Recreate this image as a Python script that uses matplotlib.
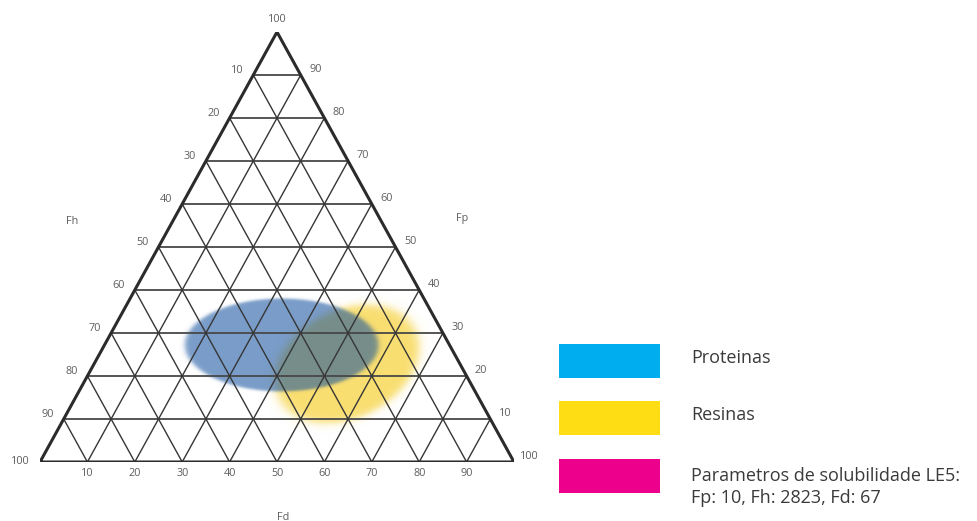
import numpy as np
import matplotlib.pyplot as plt
from matplotlib.patches import Rectangle

plt.rcParams['font.family'] = ['Open Sans', 'DejaVu Sans']

# niveis da grade ternaria (%)
niveis = [10, 20, 30, 40, 50, 60, 70, 80, 90]
rotulos_fd = ['10', '20', '30', '40', '50', '60', '70', '80', '90']   # base
rotulos_fp = ['10', '20', '30', '40', '50', '60', '70', '80', '90']   # lado direito
rotulos_fh = ['90', '80', '70', '60', '50', '40', '30', '20', '10']   # lado esquerdo
rotulo_vertice = '100'

# regioes de solubilidade: centro (posicao na base %, Fp %), largura, altura, angulo
regiao_proteinas = dict(centro=(51.0, 27.2), largura=40.8, altura=21.6, angulo=0.0)
regiao_resinas = dict(centro=(64.8, 22.8), largura=32.0, altura=25.0, angulo=27.0)

legenda_nomes = ['Proteinas', 'Resinas',
                 'Parametros de solubilidade LE5:\nFp: 10, Fh: 2823, Fd: 67']
legenda_cores = ['#00aeef', '#ffdd15', '#ec008c']

ALT = 90.7  # altura do triangulo nas unidades da base


def ponto(base, fp):
    return base, fp * ALT / 100.0


fig = plt.figure(figsize=(9.78, 5.21), dpi=100)
ax = fig.add_axes([40 / 978, 59 / 521, 474 / 978, 430 / 521])
ax.set_xlim(0, 100)
ax.set_ylim(0, ALT)
ax.axis('off')


# mancha eliptica com borda suave
def mancha(reg, suave):
    xs = np.linspace(0, 100, 1000)
    ys = np.linspace(0, ALT, 910)
    X, Y = np.meshgrid(xs, ys)
    cx, cy = ponto(*reg['centro'])
    a = reg['largura'] / 2
    b = reg['altura'] * ALT / 100 / 2
    t = np.deg2rad(reg['angulo'])
    dx, dy = X - cx, Y - cy
    u = dx * np.cos(t) + dy * np.sin(t)
    v = -dx * np.sin(t) + dy * np.cos(t)
    r = np.sqrt((u / a) ** 2 + (v / b) ** 2)
    d = (r - 1) * min(a, b)
    return 1 / (1 + np.exp(d / suave))


def camada(mascara, cor, alfa):
    img = np.zeros(mascara.shape + (4,))
    img[..., :3] = np.array(cor) / 255.0
    img[..., 3] = mascara * alfa
    ax.imshow(img, extent=[0, 100, 0, ALT], origin='lower',
              aspect='auto', interpolation='bilinear', zorder=1)


camada(mancha(regiao_resinas, 0.45), (249, 222, 112), 1.0)
camada(mancha(regiao_proteinas, 0.15), (15, 78, 158), 0.56)

# grade
for p in niveis:
    x0, y0 = ponto(p / 2, p)
    x1, _ = ponto(100 - p / 2, p)
    ax.plot([x0, x1], [y0, y0], color='#484848', lw=1.3, zorder=2)
for d in niveis:
    xa, ya = ponto(d, 0)
    xb, yb = ponto(d + (100 - d) / 2, 100 - d)
    ax.plot([xa, xb], [ya, yb], color='#363636', lw=1.0, zorder=2)
    xc, yc = ponto(d / 2, d)
    ax.plot([xa, xc], [ya, yc], color='#363636', lw=1.0, zorder=2)

# contorno
cx_, cy_ = zip(ponto(0, 0), ponto(100, 0), ponto(50, 100), ponto(0, 0))
ax.plot(cx_, cy_, color='#2b2b2b', lw=2.2, zorder=3, solid_joinstyle='miter')

# rotulos dos eixos
est = dict(fontsize=7.8, color='#5e5e5e', ha='center', va='center',
           textcoords='offset points', annotation_clip=False)
for p, fd, fp, fh in zip(niveis, rotulos_fd, rotulos_fp, rotulos_fh):
    ax.annotate(fd, ponto(p, 0), xytext=(0, -8), **est)
    ax.annotate(fp, ponto(100 - p / 2, p), xytext=(10.5, 4), **est)
    ax.annotate(fh, ponto(p / 2, p), xytext=(-11.5, 3.5), **est)
ax.annotate(rotulo_vertice, ponto(50, 100), xytext=(0, 9), **est)
ax.annotate(rotulo_vertice, ponto(0, 0), xytext=(-14, 0.5), **est)
ax.annotate(rotulo_vertice, ponto(100, 0), xytext=(11, 4), **est)

fig.text(72 / 978, 1 - 221 / 521, 'Fh', fontsize=7.8, color='#5e5e5e', ha='center', va='center')
fig.text(462 / 978, 1 - 218 / 521, 'Fp', fontsize=7.8, color='#5e5e5e', ha='center', va='center')
fig.text(283 / 978, 1 - 517 / 521, 'Fd', fontsize=7.8, color='#5e5e5e', ha='center', va='center')

# legenda
topos = [344, 401, 459]
for topo, nome, cor in zip(topos, legenda_nomes, legenda_cores):
    fig.add_artist(Rectangle((559 / 978, 1 - (topo + 34) / 521), 101 / 978, 34 / 521,
                             transform=fig.transFigure, color=cor, lw=0))
    if '\n' in nome:
        fig.text(691 / 978, 1 - (topo + 28) / 521, nome, fontsize=13, color='#3a3a3a',
                 ha='left', va='center', linespacing=1.35)
    else:
        fig.text(691 / 978, 1 - (topo + 14) / 521, nome, fontsize=13, color='#3a3a3a',
                 ha='left', va='center')

fig.savefig('out.png', dpi=100)
